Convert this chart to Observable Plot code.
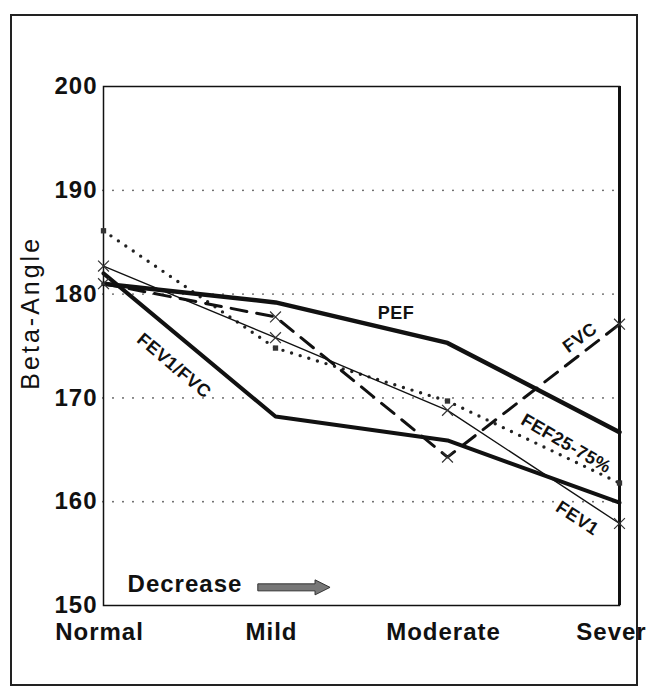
<!DOCTYPE html>
<html><head><meta charset="utf-8">
<script src="https://cdn.jsdelivr.net/npm/d3@7"></script>
<script src="https://cdn.jsdelivr.net/npm/@observablehq/plot@0.6"></script>
<style>
body{margin:0;background:#fff;}
#wrap{position:relative;width:651px;height:691px;}
#border{position:absolute;left:10px;top:14px;width:624px;height:668px;border:2px solid #222;pointer-events:none;}
.ylab text{letter-spacing:3px}
.wide text{letter-spacing:1px}
.lab text{letter-spacing:0.5px}
</style></head><body><div id="wrap"><div id="border"></div></div>
<script>
const stages = ["Normal", "Mild", "Moderate", "Sever"];
const pef = [181, 179.2, 175.3, 166.7];
const fev1fvc = [182, 168.2, 165.9, 159.9];
const fev1 = [182.7, 175.8, 168.8, 157.9];
const fvc = [181, 177.8, 164.3, 177.1];
const fef = [186.1, 174.8, 169.7, 161.8];
const yTicks = [150, 160, 170, 180, 190, 200];
const gridTicks = [160, 170, 180, 190];
const seriesNames = ["PEF", "FEV1/FVC", "FEV1", "FVC", "FEF25-75%"];

const rows = (vals) => vals.map((v, i) => ({i, v}));
const font = "Liberation Sans, Arial, Helvetica, sans-serif";

const arrowMark = (index, scales) => {
  const x1 = scales.x(0.9), x2 = scales.x(1.32), y = scales.y(151.7);
  return d3.create("svg:path")
    .attr("d", `M${x1},${y-3.5}H${x2-15}V${y-7.5}L${x2},${y}L${x2-15},${y+7.5}V${y+3.5}H${x1}Z`)
    .attr("fill", "#777").attr("stroke", "#333").attr("stroke-width", 1)
    .node();
};

const chart = Plot.plot({
  width: 651, height: 691,
  marginLeft: 103, marginRight: 32, marginTop: 86, marginBottom: 86,
  style: {fontFamily: font, background: "transparent", color: "#111"},
  x: {domain: [0, 3], axis: null},
  y: {domain: [150, 200], axis: null},
  marks: [
    Plot.ruleY(gridTicks, {stroke: "#444", strokeWidth: 1.7, strokeDasharray: "0,10", strokeLinecap: "round"}),
    Plot.frame({stroke: "#111", strokeWidth: 1.5}),
    Plot.ruleX([3], {stroke: "#111", strokeWidth: 3}),
    Plot.axisX({ticks: [0, 1, 2], tickFormat: i => stages[i], tickSize: 0, tickPadding: 17, dx: -4, fontSize: 24, fontWeight: "bold", label: null, className: "wide"}),
    Plot.axisX({ticks: [3], tickFormat: i => stages[i], tickSize: 0, tickPadding: 17, dx: -8, fontSize: 24, fontWeight: "bold", label: null, className: "wide"}),
    Plot.axisY({ticks: yTicks, tickSize: 0, tickPadding: 6, fontSize: 24, fontWeight: "bold", label: null, className: "wide"}),
    Plot.text(["Beta-Angle"], {frameAnchor: "left", dx: -73, y: [178.2], rotate: -90, textAnchor: "middle", fontSize: 25, className: "ylab"}),
    // series
    Plot.line(rows(fef), {x: "i", y: "v", stroke: "#222", strokeWidth: 3.4, strokeDasharray: "0,9", strokeLinecap: "round"}),
    Plot.line(rows(fvc), {x: "i", y: "v", stroke: "#111", strokeWidth: 3, strokeDasharray: "16,10"}),
    Plot.line(rows(fev1), {x: "i", y: "v", stroke: "#111", strokeWidth: 1.4}),
    Plot.line(rows(fev1fvc), {x: "i", y: "v", stroke: "#111", strokeWidth: 4}),
    Plot.line(rows(pef), {x: "i", y: "v", stroke: "#111", strokeWidth: 4.5}),
    Plot.dot(rows(fef), {x: "i", y: "v", symbol: "square", r: 3, fill: "#333"}),
    Plot.dot(rows(fev1), {x: "i", y: "v", symbol: "times", r: 5, stroke: "#333", strokeWidth: 1.2}),
    Plot.dot(rows(fvc), {x: "i", y: "v", symbol: "times", r: 5, stroke: "#333", strokeWidth: 1.2}),
    // series labels
    Plot.text([seriesNames[0]], {x: [1.70], y: [178.2], fontSize: 18, fontWeight: "bold", className: "lab"}),
    Plot.text([seriesNames[1]], {x: [0.41], y: [173.1], rotate: 40, fontSize: 18, fontWeight: "bold", className: "lab"}),
    Plot.text([seriesNames[3]], {x: [2.77], y: [175.8], rotate: -36, fontSize: 18, fontWeight: "bold", className: "lab"}),
    Plot.text([seriesNames[4]], {x: [2.69], y: [165.6], rotate: 30, fontSize: 18, fontWeight: "bold", className: "lab"}),
    Plot.text([seriesNames[2]], {x: [2.755], y: [158.4], rotate: 33, fontSize: 18, fontWeight: "bold", className: "lab"}),
    // annotation
    Plot.text(["Decrease"], {x: [0.14], y: [152.0], textAnchor: "start", fontSize: 24, fontWeight: "bold", className: "wide"}),
    arrowMark
  ]
});
document.getElementById("wrap").appendChild(chart);
chart.style.position = "absolute";
chart.style.left = "0";
chart.style.top = "0";
</script>
</body></html>
